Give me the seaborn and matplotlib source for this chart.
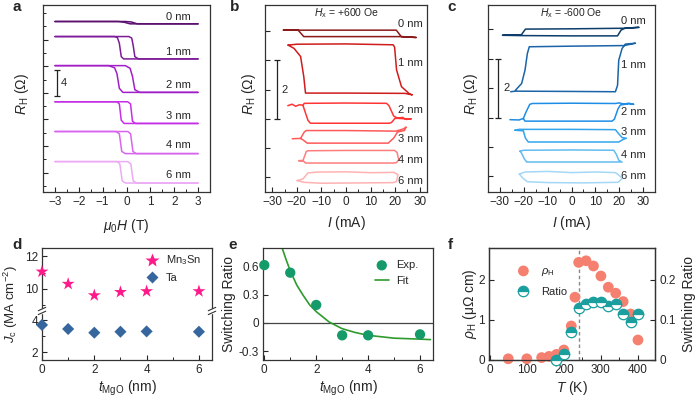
import matplotlib
matplotlib.use("Agg")
import matplotlib.pyplot as plt
from matplotlib.lines import Line2D
from matplotlib.ticker import MultipleLocator, NullFormatter
import seaborn as sns

sns.set_style("ticks")
plt.rcParams['font.family'] = ['Liberation Sans', 'DejaVu Sans']
plt.rcParams['mathtext.fontset'] = 'custom'
plt.rcParams['mathtext.rm'] = 'Liberation Sans'
plt.rcParams['mathtext.it'] = 'Liberation Sans:italic'
plt.rcParams['mathtext.bf'] = 'Liberation Sans:bold'
plt.rcParams['xtick.direction'] = 'in'
plt.rcParams['ytick.direction'] = 'in'
plt.rcParams['axes.linewidth'] = 0.9
plt.rcParams['axes.edgecolor'] = '#333333'

# ---------------- data ----------------
thick = ['0 nm', '1 nm', '2 nm', '3 nm', '4 nm', '6 nm']

# panel a: R_H(H) loops (offset per thickness, Ohm)
a_colors = ['#5c1070', '#7d1b99', '#a21fc7', '#c62fe6', '#d865ee', '#ecaaf5']
a_hi = [24.72, 22.46, 18.09, 12.66, 8.19, 3.67]
a_lo = [24.37, 19.10, 14.07, 9.40, 4.87, 0.45]
a_label_y = [25.4, 20.2, 15.2, 10.5, 6.1, 1.6]
a_down_x = [[-3, -0.35, -0.1, 0.15, 3],
            [-3, -0.5, -0.38, -0.3, -0.22, -0.12, 3],
            [-3, -0.75, -0.5, -0.4, -0.3, -0.15, 3],
            [-3, -0.4, -0.3, -0.22, -0.1, 3],
            [-3, -0.45, -0.3, -0.2, -0.05, 3],
            [-3, -0.4, -0.28, -0.18, -0.05, 3]]
a_down_f = [[1, 1, 0.7, 0, 0],
            [1, 1, 0.95, 0.7, 0.1, 0, 0],
            [1, 1, 0.92, 0.7, 0.15, 0, 0],
            [1, 1, 0.9, 0.15, 0, 0],
            [1, 1, 0.9, 0.1, 0, 0],
            [1, 1, 0.9, 0.1, 0, 0]]
a_up_x = [[-3, -0.05, 0.2, 0.45, 3],
          [-3, 0.1, 0.22, 0.28, 0.35, 0.5, 3],
          [-3, -0.05, 0.15, 0.25, 0.35, 0.55, 3],
          [-3, 0.05, 0.17, 0.25, 0.38, 3],
          [-3, 0.05, 0.17, 0.27, 0.4, 3],
          [-3, 0.05, 0.18, 0.28, 0.42, 3]]
a_up_f = [[1, 1, 0.8, 0, 0],
          [1, 1, 0.93, 0.6, 0.1, 0, 0],
          [1, 1, 0.9, 0.6, 0.1, 0, 0],
          [1, 1, 0.9, 0.1, 0, 0],
          [1, 1, 0.9, 0.1, 0, 0],
          [1, 1, 0.9, 0.1, 0, 0]]

# panel b: current switching loops, Hx = +600 Oe
b_colors = ['#8b1a1a', '#d01c1c', '#ff3535', '#ff5a5a', '#ff7d7d', '#ffb2b2']
b_label_y = [5.24, 3.9, 2.31, 1.31, 0.58, -0.14]
b_x = [[-25.5, 20.5, 22.5, 28.6, 22.5, -17.2, -19.5, -25.5],
       [-23.6, -20, 0, 19.2, 19.8, 20.6, 22.6, 25.9, 27.0, 24.0, 0, -16.5, -17.2, -18.5, -21.2, -23.6],
       [-23.7, -22, -20.5, -19, -17.5, -17.0, 0, 16.5, 17.5, 19.4, 21, 23, 24.5, 26.6, 24.5, 20,
        18.5, 17.5, 0, -14.5, -15.5, -17.5],
       [-21.9, -18.5, -17.0, -16.2, 0, 20.3, 22, 23.5, 24.5, 23.8, 21, 19.5, 17.2, 0, -15.8, -17.5, -18.5],
       [-19.2, -17.5, -16.2, -15.5, 0, 19.8, 20.8, 21.5, 20.5, 19, 0, -16.5, -17.2, -19.2],
       [-19.9, -17.5, -15.5, -12, 0, 10, 19.5, 21.2, 20.5, 19, 5, -10, -17, -19.9]]
b_y = [[5.03, 5.03, 4.81, 4.78, 4.81, 4.81, 5.03, 5.03],
       [4.52, 4.55, 4.56, 4.53, 4.45, 3.67, 3.1, 2.85, 2.82, 2.87, 2.88, 2.88, 3.44, 4.13, 4.41, 4.52],
       [2.45, 2.5, 2.43, 2.48, 2.47, 2.53, 2.54, 2.53, 2.45, 2.1, 2.02, 2.05, 1.98, 2.0, 2.0, 2.02,
        1.87, 1.85, 1.85, 1.85, 1.95, 2.45],
       [1.32, 1.33, 1.55, 1.6, 1.6, 1.58, 1.62, 1.66, 1.72, 1.6, 1.55, 1.35, 1.17, 1.17, 1.17, 1.28, 1.33],
       [0.57, 0.58, 0.88, 0.91, 0.92, 0.92, 0.85, 0.6, 0.5, 0.49, 0.49, 0.49, 0.55, 0.57],
       [-0.11, -0.05, 0.15, 0.18, 0.19, 0.16, 0.17, 0.09, -0.15, -0.18, -0.19, -0.2, -0.17, -0.11]]

# panel c: current switching loops, Hx = -600 Oe
c_colors = ['#0d3d6b', '#1b64a8', '#1e8de6', '#34a5ec', '#62bcf2', '#a5d7f7']
c_label_y = [5.3, 3.78, 2.19, 1.51, 0.72, 0.01]
c_x = [[-28.9, -21.5, 0, 19.3, 20.8, 22.5, 28.2, 22.5, 0, -19.3, -21.0, -28.9],
       [-25.5, -23.5, 0, 18.4, 19.3, 19.8, 21.2, 22.6, 26.8, 22.0, 0, -17.7, -18.5, -19.5, -20.9, -23.5],
       [-25.8, -22, -20.2, -19.0, -17.5, -16.5, 0, 18.4, 20, 22, 24, 26.1, 24, 20.5, 19.5, 18.0, 17,
        0, -19.5, -20.2],
       [-23.7, -22, 0, 18.4, 19.8, 21.2, 23, 21.5, 19.8, 0, -18.1, -19.3, -20.2, -23.7],
       [-21.6, -20, 0, 17.7, 18.8, 19.8, 21.2, 0, -18.8, -19.8, -21.0, -21.6],
       [-21.9, -19.5, -10, 0, 10, 18.4, 20.5, 21.2, 19.5, 5, -10, -18.5, -20.5, -21.9]]
c_y = [[4.8, 4.79, 4.78, 4.78, 4.98, 5.04, 5.07, 5.04, 5.02, 5.01, 4.82, 4.8],
       [2.88, 2.9, 2.89, 2.88, 3.1, 3.95, 4.35, 4.5, 4.53, 4.45, 4.43, 4.41, 4.18, 3.61, 3.16, 2.93],
       [1.93, 1.92, 1.97, 2.2, 2.45, 2.48, 2.49, 2.48, 2.5, 2.46, 2.49, 2.45, 2.47, 2.43, 2.3, 1.95, 1.88,
        1.88, 1.88, 1.97],
       [1.57, 1.6, 1.6, 1.59, 1.45, 1.32, 1.3, 1.25, 1.17, 1.17, 1.17, 1.3, 1.55, 1.57],
       [0.86, 0.89, 0.9, 0.89, 0.75, 0.55, 0.49, 0.49, 0.49, 0.6, 0.8, 0.86],
       [0.08, 0.15, 0.17, 0.13, 0.15, 0.13, 0.0, -0.08, -0.2, -0.22, -0.21, -0.18, -0.05, 0.08]]

# panel d: critical current density
t_mgo = [0, 1, 2, 3, 4, 6]
jc_mn3sn = [11.05, 10.3, 9.6, 9.8, 9.85, 9.85]
jc_ta = [3.7, 3.45, 3.22, 3.28, 3.3, 3.28]

# panel e: switching ratio vs MgO thickness
ratio_exp = [0.61, 0.53, 0.19, -0.13, -0.13, -0.12]
fit_t = [0.7, 0.85, 1.0, 1.25, 1.5, 1.75, 2.0, 2.5, 3.0, 3.5, 4.0, 5.0, 6.0, 6.4]
fit_ratio = [0.78, 0.66, 0.55, 0.40, 0.29, 0.19, 0.12, 0.01, -0.06, -0.10, -0.13, -0.16, -0.17, -0.175]

# panel f: temperature dependence
T_rho = [50, 100, 140, 160, 180, 200, 220, 230, 240, 260, 280, 300, 320, 340, 360, 380, 400]
rho_h = [0.03, 0.03, 0.06, 0.09, 0.14, 0.25, 0.85, 1.57, 2.44, 2.48, 2.35, 2.1, 1.82, 1.67, 1.46, 1.15, 0.5]
T_ratio = [180, 200, 220, 240, 260, 280, 300, 320, 340, 360, 380, 400]
ratio_T = [0.0, 0.014, 0.071, 0.13, 0.14, 0.144, 0.144, 0.135, 0.141, 0.115, 0.094, 0.115]

# ---------------- figure ----------------
W, H = 698, 400
fig = plt.figure(figsize=(W / 100, H / 100), dpi=100)


def fpos(l, t, r, b):
    return [l / W, 1 - b / H, (r - l) / W, (b - t) / H]


def ftext(x, y, s, **kw):
    fig.text(x / W, 1 - y / H, s, ha='center', va='center', **kw)


TICK = 8.5
LAB = 10

ax_a = fig.add_axes(fpos(43, 5, 210, 192))
ax_b = fig.add_axes(fpos(265, 5, 427, 192))
ax_c = fig.add_axes(fpos(488, 5, 655, 192))
ax_d1 = fig.add_axes(fpos(42, 248, 212, 311.7))
ax_d2 = fig.add_axes(fpos(42, 311.7, 212, 360))
ax_e = fig.add_axes(fpos(263, 248, 433, 360))
ax_f = fig.add_axes(fpos(489, 248, 655, 360))

for ax in [ax_a, ax_b, ax_c, ax_d1, ax_d2, ax_e, ax_f]:
    ax.tick_params(which='major', length=3.5, width=0.8, labelsize=TICK, pad=3)
    ax.tick_params(which='minor', length=2, width=0.7)

# panel a
for i in range(len(thick)):
    for xs, fs in [(a_down_x[i], a_down_f[i]), (a_up_x[i], a_up_f[i])]:
        ys = [a_lo[i] + f * (a_hi[i] - a_lo[i]) for f in fs]
        sns.lineplot(x=xs, y=ys, sort=False, estimator=None, color=a_colors[i], lw=1.1, ax=ax_a)
    ax_a.text(2.7, a_label_y[i], thick[i], ha='right', va='center', fontsize=8)
ax_a.errorbar([-2.9], [15.5], yerr=[2.0], color='#222222', lw=0.9, capsize=2.5, capthick=0.9)
ax_a.text(-2.75, 15.5, '4', fontsize=8, va='center')
ax_a.set_xlim(-3.5, 3.5)
ax_a.set_ylim(-0.9, 27.2)
ax_a.set_xticks([-3, -2, -1, 0, 1, 2, 3])
ax_a.xaxis.set_minor_locator(MultipleLocator(0.5))
ax_a.set_yticks([2, 6, 10, 14, 18, 22])
ax_a.set_yticks([0, 4, 8, 12, 16, 20, 24, 26], minor=True)
ax_a.yaxis.set_major_formatter(NullFormatter())

# panels b and c
for ax, xs_all, ys_all, cols, ly, title, bar_x in [
        (ax_b, b_x, b_y, b_colors, b_label_y, '$H_\\mathrm{x}$ = +600 Oe', -28.2),
        (ax_c, c_x, c_y, c_colors, c_label_y, '$H_\\mathrm{x}$ = -600 Oe', -30.7)]:
    for i in range(len(thick)):
        sns.lineplot(x=xs_all[i], y=ys_all[i], sort=False, estimator=None, color=cols[i], lw=1.1, ax=ax)
        ax.text(31.2, ly[i], thick[i], ha='right', va='center', fontsize=8)
    ax.errorbar([bar_x], [3.0], yerr=[1.0], color='#222222', lw=0.9, capsize=2.5, capthick=0.9)
    ax.text(bar_x + 2.0, 3.0, '2', fontsize=8, va='center')
    ax.text(0.5, 0.955, title, transform=ax.transAxes, ha='center', va='center', fontsize=7.5)
    ax.set_xticks([-30, -20, -10, 0, 10, 20, 30])
    ax.xaxis.set_minor_locator(MultipleLocator(5))
    ax.set_yticks([0, 1, 2, 3, 4, 5])
    ax.yaxis.set_major_formatter(NullFormatter())
ax_b.set_xlim(-33, 33)
ax_b.set_ylim(-0.5, 5.89)
ax_c.set_xlim(-35, 35)
ax_c.set_ylim(-0.53, 5.83)

# panel d (broken y axis)
star_col, dia_col = '#ff1a8c', '#35679e'
sns.scatterplot(x=t_mgo, y=jc_mn3sn, marker='*', s=95, color=star_col, edgecolor='none',
                ax=ax_d1, clip_on=False, zorder=3)
sns.scatterplot(x=t_mgo, y=jc_ta, marker='D', s=38, color=dia_col, edgecolor='none',
                ax=ax_d2, clip_on=False, zorder=3)
ax_d1.set_ylim(8.6, 12.5)
ax_d2.set_ylim(1.53, 4.52)
for ax in [ax_d1, ax_d2]:
    ax.set_xlim(0, 6.5)
    ax.set_xticks([0, 2, 4, 6])
    ax.xaxis.set_minor_locator(MultipleLocator(1))
    ax.yaxis.set_minor_locator(MultipleLocator(1))
ax_d1.set_yticks([10, 12])
ax_d2.set_yticks([2, 4])
ax_d1.spines['bottom'].set_visible(False)
ax_d2.spines['top'].set_visible(False)
ax_d1.tick_params(axis='x', which='both', bottom=False, labelbottom=False)
d_handles = [Line2D([], [], ls='none', marker='*', ms=10, color=star_col, mec='none'),
             Line2D([], [], ls='none', marker='D', ms=6.5, color=dia_col, mec='none')]
ax_d1.legend(d_handles, ['Mn$_3$Sn', 'Ta'], loc='upper right', frameon=False, fontsize=8,
             handletextpad=0.3, borderaxespad=0.1, labelspacing=0.5, bbox_to_anchor=(0.97, 1.0))
for xa in [0.0, 1.0]:
    ax_d2.add_patch(plt.Rectangle((xa - 0.025, 0.97), 0.05, 0.08, transform=ax_d2.transAxes,
                                  color='white', clip_on=False, zorder=5))
    for yo in [0.94, 1.02]:
        ax_d2.plot([xa - 0.022, xa + 0.022], [yo, yo + 0.07], transform=ax_d2.transAxes,
                   color='#333333', lw=0.8, clip_on=False, zorder=6)

# panel e
ax_e.axhline(0, color='#444444', lw=0.9)
sns.lineplot(x=fit_t, y=fit_ratio, color='#2e9b2e', lw=1.2, ax=ax_e, label='Fit', sort=False, estimator=None)
sns.scatterplot(x=t_mgo, y=ratio_exp, s=55, color='#159a6a', edgecolor='none', ax=ax_e,
                label='Exp.', clip_on=False, zorder=3)
h, l = ax_e.get_legend_handles_labels()
ax_e.legend(h[::-1], l[::-1], loc='upper right', frameon=False, fontsize=8, handlelength=1.3,
            handletextpad=0.6, bbox_to_anchor=(0.97, 0.98))
ax_e.set_xlim(-0.05, 6.5)
ax_e.set_ylim(-0.39, 0.79)
ax_e.set_xticks([0, 2, 4, 6])
ax_e.xaxis.set_minor_locator(MultipleLocator(1))
ax_e.set_yticks([-0.3, 0, 0.3, 0.6])
ax_e.set_yticklabels(['-0.3', '0', '0.3', '0.6'])

# panel f
ax_f.axvline(240, color='#888888', lw=1.0, ls=(0, (2.5, 2)))
sns.scatterplot(x=T_rho, y=rho_h, s=60, color='#f58070', edgecolor='none', ax=ax_f, zorder=3,
                clip_on=False, label='$\\rho_\\mathrm{H}$')
ax_f2 = ax_f.twinx()
ax_f2.tick_params(which='major', length=3.5, width=0.8, labelsize=TICK, pad=3, direction='in')
ax_f2.plot(T_ratio, ratio_T, ls='none', marker='o', ms=7.5, fillstyle='top', color='#1a9e9e',
           markerfacecoloralt='white', mec='#1a9e9e', mew=0.9, clip_on=False, zorder=4, label='Ratio')
ax_f.set_xlim(-2, 446)
ax_f.set_ylim(0, 2.8)
ax_f2.set_ylim(0, 0.28)
ax_f.set_xticks([0, 100, 200, 300, 400])
ax_f.xaxis.set_minor_locator(MultipleLocator(50))
ax_f.set_yticks([0, 1, 2])
ax_f2.set_yticks([0, 0.1, 0.2])
ax_f2.set_yticklabels(['0', '0.1', '0.2'])
ax_f.set_xlabel('')
ax_f.set_ylabel('')
h1, l1 = ax_f.get_legend_handles_labels()
h2, l2 = ax_f2.get_legend_handles_labels()
if ax_f.get_legend():
    ax_f.get_legend().remove()
ax_f2.legend(h1 + h2, l1 + l2, loc='upper left', frameon=False, fontsize=8,
             bbox_to_anchor=(0.08, 0.93), handletextpad=0.6, labelspacing=0.8)

for ax in [ax_a, ax_b, ax_c, ax_d1, ax_d2, ax_e]:
    ax.set_xlabel('')
    ax.set_ylabel('')

# axis labels
ftext(22, 94, '$R_\\mathrm{H}$ (Ω)', fontsize=LAB, rotation=90)
ftext(249, 94, '$R_\\mathrm{H}$ (Ω)', fontsize=LAB, rotation=90)
ftext(471, 94, '$R_\\mathrm{H}$ (Ω)', fontsize=LAB, rotation=90)
ftext(126, 226, '$\\mu_0H$ (T)', fontsize=LAB)
ftext(346, 223, '$I$ (mA)', fontsize=LAB)
ftext(571, 223, '$I$ (mA)', fontsize=LAB)
ftext(11, 304, '$J_\\mathrm{c}$ (MA cm$^{-2}$)', fontsize=9.5, rotation=90)
ftext(127, 388, '$t_\\mathrm{MgO}$ (nm)', fontsize=LAB)
ftext(229, 304, 'Switching Ratio', fontsize=LAB, rotation=90)
ftext(348, 388, '$t_\\mathrm{MgO}$ (nm)', fontsize=LAB)
ftext(470, 304, '$\\rho_\\mathrm{H}$ (μΩ cm)', fontsize=LAB, rotation=90)
ftext(689, 304, 'Switching Ratio', fontsize=LAB, rotation=90)
ftext(572, 388, '$T$ (K)', fontsize=LAB)

# panel letters
for s, x, y in [('a', 17, 7), ('b', 235, 7), ('c', 452, 7),
                ('d', 17, 245), ('e', 233, 245), ('f', 450, 245)]:
    ftext(x, y, s, fontsize=11, fontweight='bold')

fig.savefig('out.png', dpi=100)
